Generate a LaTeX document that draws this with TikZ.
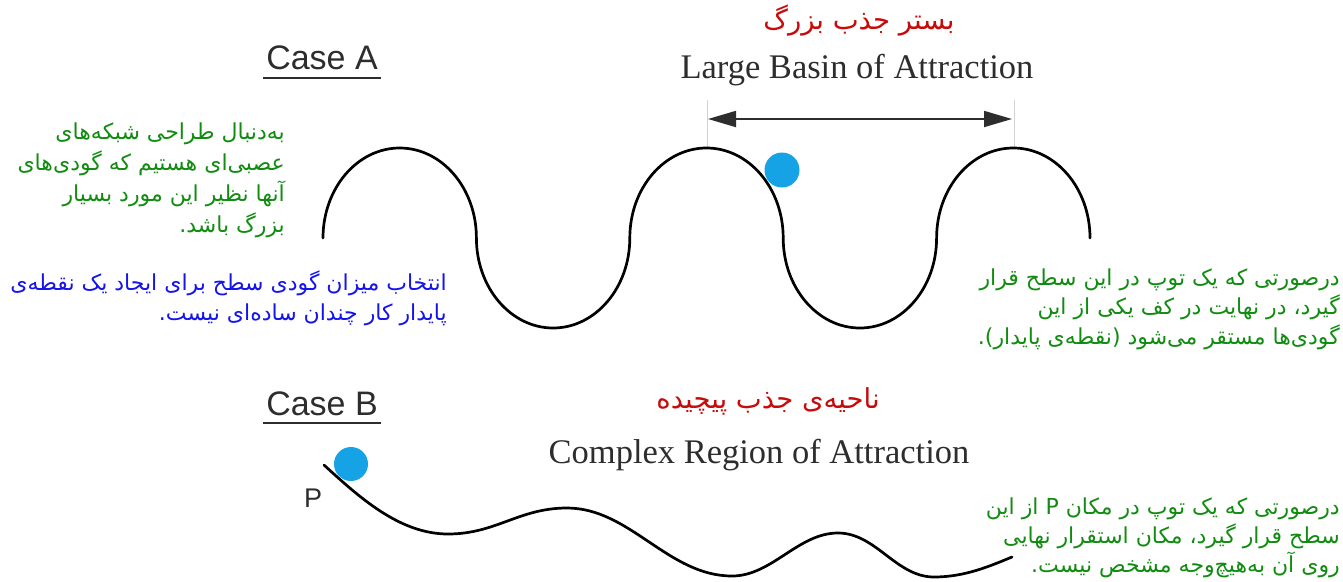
\documentclass[tikz,border=0pt]{standalone}
\usepackage{fontspec}
\setmainfont{Liberation Serif}
\newfontfamily\arialf{Liberation Sans}
\newfontfamily\fa[Script=Arabic]{DejaVu Sans}
\TeXXeTstate=1
\usetikzlibrary{arrows.meta}
\definecolor{ballblue}{RGB}{22,163,230}
\definecolor{txtgreen}{RGB}{17,140,17}
\definecolor{txtblue}{RGB}{20,20,235}
\definecolor{txtred}{RGB}{200,10,10}
\definecolor{engray}{RGB}{45,45,45}
\begin{document}
\begin{tikzpicture}[x=1pt,y=-1pt,
  surf/.style={line width=2.7pt, black, line cap=round, line join=round},
  ball/.style={circle, fill=ballblue, minimum size=35pt, inner sep=0pt},
  entitle/.style={font=\fontsize{34.5}{40}\selectfont, text=engray, inner sep=0pt},
  fatitle/.style={font=\fa\fontsize{27.5}{32}\selectfont, text=txtred, inner sep=0pt},
  fanote/.style={font=\fa\fontsize{22}{31}\selectfont, inner sep=0pt, anchor=base east},
  caselbl/.style={font=\arialf\fontsize{34}{40}\selectfont, text=engray, inner sep=0pt},
  guide/.style={draw=gray!35, line width=0.8pt},
  span/.style={line width=1.8pt, draw=engray, {Triangle[length=28pt,width=16pt]}-{Triangle[length=28pt,width=16pt]}}]
\useasboundingbox (0,0) rectangle (1343,581);

% ---------- Case A ----------
\node[caselbl] (caseA) at (322,58) {Case A};
\coordinate (uAl) at (263,78);
\coordinate (uAr) at (381,78);
\draw[line width=2.4pt, engray] (uAl) -- (uAr);

\node[fatitle] (faA) at (859,21) {\beginR بستر جذب بزرگ\endR};
\node[entitle, anchor=base] (enA) at (857,78) {Large Basin of Attraction};

\coordinate (g1t) at (707,100);
\coordinate (g1b) at (707,148);
\coordinate (g2t) at (1014,100);
\coordinate (g2b) at (1014,148);
\draw[guide] (g1t) -- (g1b);
\draw[guide] (g2t) -- (g2b);
\coordinate (arL) at (708,119);
\coordinate (arR) at (1012,119);
\draw[span] (arL) -- (arR);

\coordinate (a0) at (323,238);
\draw[surf] (a0)
  arc[start angle=180, end angle=360, x radius=76.7, y radius=90]
  arc[start angle=180, end angle=0,   x radius=76.7, y radius=90]
  arc[start angle=180, end angle=360, x radius=76.7, y radius=90]
  arc[start angle=180, end angle=0,   x radius=76.7, y radius=90]
  arc[start angle=180, end angle=360, x radius=76.7, y radius=90];

\node[ball] (ballA) at (782,170) {};

\node[fanote, text=txtgreen] (la1) at (285,139) {\beginR به‌دنبال طراحی شبکه‌های\endR};
\node[fanote, text=txtgreen] (la2) at (285,170) {\beginR عصبی‌ای هستیم که گودی‌های\endR};
\node[fanote, text=txtgreen] (la3) at (285,201) {\beginR آنها نظیر این مورد بسیار\endR};
\node[fanote, text=txtgreen] (la4) at (285,232) {\beginR بزرگ باشد.\endR};

\node[fanote, text=txtblue] (lb1) at (447,290) {\beginR انتخاب میزان گودی سطح برای ایجاد یک نقطه‌ی\endR};
\node[fanote, text=txtblue] (lb2) at (447,320) {\beginR پایدار کار چندان ساده‌ای نیست.\endR};

\node[fanote, text=txtgreen] (ra1) at (1340,285) {\beginR درصورتی که یک توپ در این سطح قرار\endR};
\node[fanote, text=txtgreen] (ra2) at (1340,314) {\beginR گیرد، در نهایت در کف یکی از این\endR};
\node[fanote, text=txtgreen] (ra3) at (1340,344) {\beginR گودی‌ها مستقر می‌شود (نقطه‌ی پایدار).\endR};

% ---------- Case B ----------
\node[caselbl] (caseB) at (322,404) {Case B};
\coordinate (uBl) at (263,423);
\coordinate (uBr) at (381,423);
\draw[line width=2.4pt, engray] (uBl) -- (uBr);

\node[fatitle] (faB) at (768,401) {\beginR ناحیه‌ی جذب پیچیده\endR};
\node[entitle, anchor=base] (enB) at (759,463) {Complex Region of Attraction};

\coordinate (b0) at (324,465);
\coordinate (b1) at (448,534);
\coordinate (b2) at (567,508);
\coordinate (b3) at (732,576);
\coordinate (b4) at (838,533);
\coordinate (b5) at (934,577);
\coordinate (b6) at (1012,557);
\draw[surf] (b0) .. controls (360,498) and (400,534) .. (b1)
  .. controls (496,534) and (519,508) .. (b2)
  .. controls (630,508) and (668,576) .. (b3)
  .. controls (772,576) and (798,533) .. (b4)
  .. controls (876,533) and (896,577) .. (b5)
  .. controls (965,577) and (990,566) .. (b6);

\node[ball, minimum size=34pt] (ballB) at (351,464) {};
\node[font=\arialf\fontsize{27}{30}\selectfont, text=engray, inner sep=0pt] (P) at (313,498) {P};

\node[fanote, text=txtgreen] (rb1) at (1340,514) {\beginR درصورتی که یک توپ در مکان P از این\endR};
\node[fanote, text=txtgreen] (rb2) at (1340,543) {\beginR سطح قرار گیرد، مکان استقرار نهایی\endR};
\node[fanote, text=txtgreen] (rb3) at (1340,572) {\beginR روی آن به‌هیچ‌وجه مشخص نیست.\endR};
\end{tikzpicture}
\end{document}
